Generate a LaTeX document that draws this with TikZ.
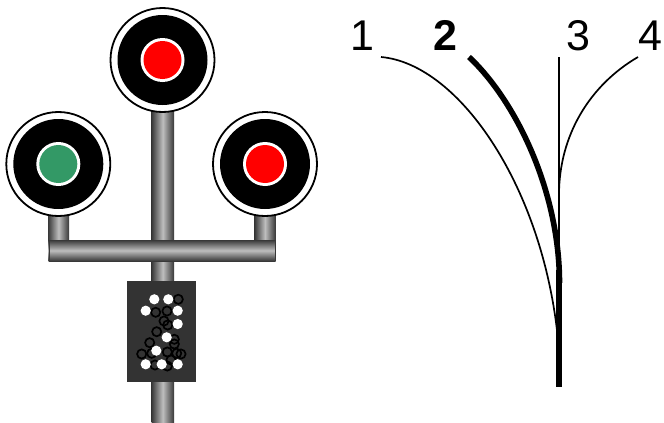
\documentclass[tikz,border=0pt]{standalone}
\usepackage{fontspec}
\setmainfont{Liberation Sans}
\definecolor{polelight}{HTML}{BEBEBE}
\definecolor{poledark}{HTML}{383838}
\definecolor{aspectgreen}{HTML}{339966}
\definecolor{plate}{HTML}{333333}
\tikzset{
  vpole/.style={left color=poledark,right color=poledark,middle color=polelight,draw=none},
  hpole/.style={top color=poledark,bottom color=poledark,middle color=polelight,draw=none},
  numlabel/.style={inner sep=0pt,anchor=base,font=\fontsize{43}{43}\selectfont},
  wdot/.style={fill=white,draw=none},
  bring/.style={draw=black,line width=1.7pt,fill=none},
  thintrack/.style={line width=1.7pt,line cap=butt},
  thicktrack/.style={line width=5.6pt,line cap=butt}
}
\newcommand{\lamp}[3]{%
  \fill[white,draw=black,line width=1.8pt] (#1,#2) circle (52);
  \fill[black] (#1,#2) circle (45);
  \fill[white] (#1,#2) circle (22);
  \fill[#3] (#1,#2) circle (19);
}
\begin{document}
\begin{tikzpicture}[x=1pt,y=-1pt]
\useasboundingbox (0,0) rectangle (664,423);
% poles
\shade[vpole] (151.5,100) rectangle (174,423);
\shade[vpole] (48,205) rectangle (69,245);
\shade[vpole] (254.5,205) rectangle (275.5,245);
\shade[hpole] (48.5,240) rectangle (275.5,261);
\draw[poledark,line width=1pt] (49,240) -- (49,261);
\draw[poledark,line width=1pt] (275,240) -- (275,261);
% lamps
\lamp{162.5}{60}{red}
\lamp{58.3}{164}{aspectgreen}
\lamp{265}{164}{red}
% plate
\fill[plate] (127.3,281) rectangle (196,381.7);
\foreach \x/\y in {178.3/299.3,155.7/312.3,167/311,164/321,167.7/325,156.7/331.7,174.3/339.3,174.3/344,149.7/342.7,141.7/354,151.7/353.3,167.3/352,176.7/353.3,181/354,155/365,167.3/366,171/360}
  \draw[bring] (\x,\y) circle (4.6);
\foreach \x/\y in {154.3/299.3,168.3/299.3,145.7/310.7,177.7/310.7,177.7/324,166.7/337.3,156.3/350.7,145.7/364.3,161.7/364.3,177.7/364.3}
  \fill[wdot] (\x,\y) circle (5.1);
% tracks
\coordinate (t1) at (381,57);
\coordinate (t2) at (469,57);
\coordinate (t3) at (559,57);
\coordinate (t4) at (638,57);
\coordinate (m1) at (558.5,345);
\coordinate (m2) at (559.5,283);
\coordinate (m4) at (559,195);
\coordinate (b) at (559,387);
\draw[thintrack] (t1) .. controls (460,64) and (545,190) .. (m1);
\draw[thicktrack] (t2) .. controls (515,100) and (559.5,190) .. (m2);
\draw[thintrack] (t3) -- (b);
\draw[thintrack] (t4) .. controls (590,85) and (559,135) .. (m4);
\draw[thicktrack] (559,270) -- (b);
% labels
\node[numlabel] (n1) at (362,50) {1};
\node[numlabel] (n2) at (445,50) {\bfseries 2};
\node[numlabel] (n3) at (578.5,50) {3};
\node[numlabel] (n4) at (650.5,50) {4};
\end{tikzpicture}
\end{document}
